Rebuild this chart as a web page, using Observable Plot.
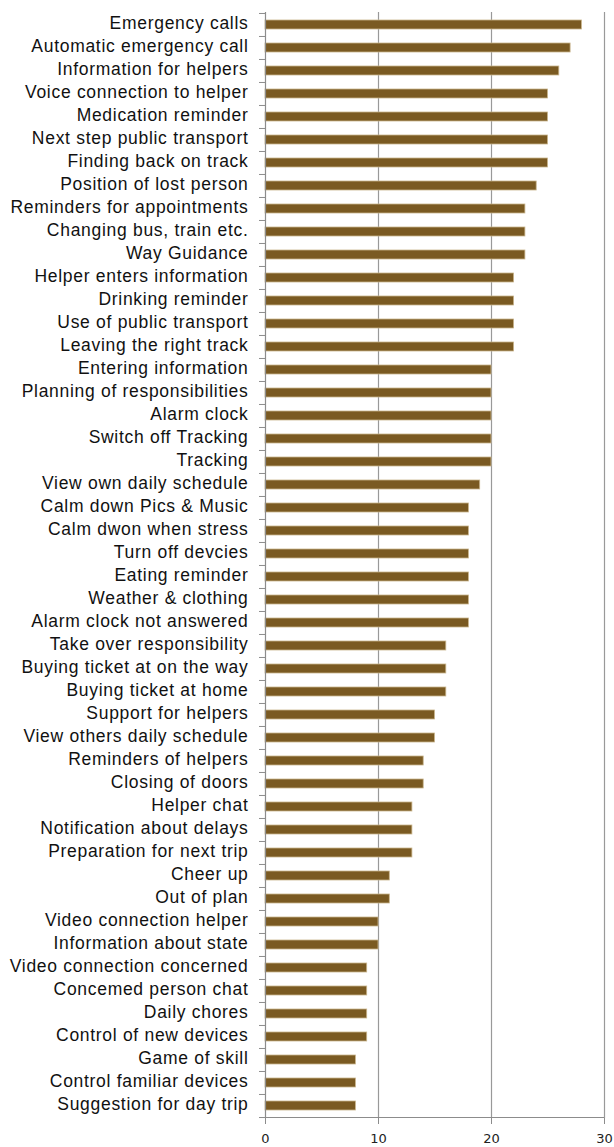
<!DOCTYPE html>
<html>
<head>
<meta charset="utf-8">
<script src="https://cdn.jsdelivr.net/npm/d3@7"></script>
<script src="https://cdn.jsdelivr.net/npm/@observablehq/plot@0.6"></script>
<style>
  html, body { margin: 0; padding: 0; background: #fff; }
  #chart svg { display: block; }
  #chart g[aria-label="y-axis tick label"] { letter-spacing: 0.7px; }
</style>
</head>
<body>
<div id="chart"></div>
<script>
const categories = [
  "Emergency calls",
  "Automatic emergency call",
  "Information for helpers",
  "Voice connection to helper",
  "Medication reminder",
  "Next step public transport",
  "Finding back on track",
  "Position of lost person",
  "Reminders for appointments",
  "Changing bus, train etc.",
  "Way Guidance",
  "Helper enters information",
  "Drinking reminder",
  "Use of public transport",
  "Leaving the right track",
  "Entering information",
  "Planning of responsibilities",
  "Alarm clock",
  "Switch off Tracking",
  "Tracking",
  "View own daily schedule",
  "Calm down Pics & Music",
  "Calm dwon when stress",
  "Turn off devcies",
  "Eating reminder",
  "Weather & clothing",
  "Alarm clock not answered",
  "Take over responsibility",
  "Buying ticket at on the way",
  "Buying ticket at home",
  "Support for helpers",
  "View others daily schedule",
  "Reminders of helpers",
  "Closing of doors",
  "Helper chat",
  "Notification about delays",
  "Preparation for next trip",
  "Cheer up",
  "Out of plan",
  "Video connection helper",
  "Information about state",
  "Video connection concerned",
  "Concemed person chat",
  "Daily chores",
  "Control of new devices",
  "Game of skill",
  "Control familiar devices",
  "Suggestion for day trip"
];

const values = [
  28, 27, 26, 25, 25, 25, 25, 24, 23, 23, 23, 22, 22, 22, 22,
  20, 20, 20, 20, 20, 19, 18, 18, 18, 18, 18, 18, 16, 16, 16,
  15, 15, 14, 14, 13, 13, 13, 11, 11, 10, 10, 9, 9, 9, 9, 8, 8, 8
];

const xTicks = [0, 10, 20, 30];
const gridTicks = [10, 20, 30];

const data = categories.map((name, i) => ({name, value: values[i]}));

const W = 614, H = 1147;
const mTop = 12, mBottom = 29, mLeft = 265, mRight = 10;
const step = (H - mTop - mBottom) / categories.length;
const axisColor = "#8c8c8c";

const chart = Plot.plot({
  width: W,
  height: H,
  marginTop: mTop,
  marginBottom: mBottom,
  marginLeft: mLeft,
  marginRight: mRight,
  style: {fontFamily: "'Liberation Sans', Arial, sans-serif", background: "#fff"},
  x: {domain: [0, 30]},
  y: {domain: categories, paddingInner: 0.6, paddingOuter: 0.3},
  marks: [
    Plot.ruleX(gridTicks, {stroke: "#999", strokeWidth: 1.2}),
    Plot.barX(data, {
      x: "value", y: "name",
      fill: "#7a5a22", stroke: "#c9b58c", strokeWidth: 0.8
    }),
    Plot.ruleX([0], {stroke: axisColor, strokeWidth: 1.2}),
    Plot.ruleY([categories[categories.length - 1]], {dy: step / 2, stroke: axisColor, strokeWidth: 1.2}),
    Plot.axisY({
      tickSize: 0, tickPadding: 17, fontSize: 17.5, fill: "#111",
      dy: -1.5, label: null
    }),
    Plot.axisY({
      tickSize: 6, text: null, dy: -step / 2, stroke: axisColor, label: null
    }),
    Plot.axisY([categories[categories.length - 1]], {
      tickSize: 6, text: null, dy: step / 2, stroke: axisColor, label: null
    }),
    Plot.axisX({
      ticks: xTicks, tickSize: 6, tickPadding: 9, fontSize: 13,
      stroke: axisColor, fill: "#222", label: null,
      fontFamily: "'DejaVu Sans', Verdana, sans-serif"
    })
  ]
});

document.getElementById("chart").appendChild(chart);
</script>
</body>
</html>
